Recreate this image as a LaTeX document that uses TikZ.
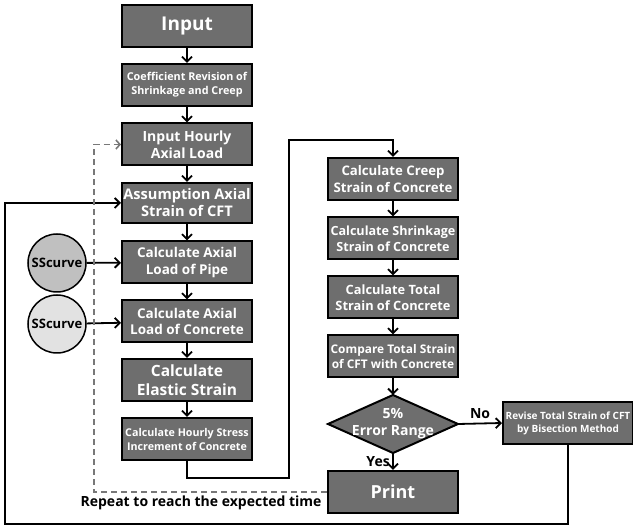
\documentclass[tikz,border=0pt]{standalone}
\usepackage{fontspec}
\setmainfont{Open Sans}
\usetikzlibrary{arrows.meta}
\definecolor{boxgray}{RGB}{110,110,110}
\definecolor{darkcircle}{RGB}{192,192,192}
\definecolor{lightcircle}{RGB}{226,226,226}
\definecolor{loopgray}{RGB}{120,120,120}

\tikzset{
    proc/.style={rectangle,draw,line width=2pt,fill=boxgray,text=white,inner sep=0pt,
        minimum width=130pt,minimum height=42pt,align=center},
    plain/.style={rectangle,inner sep=0pt,text=white,align=center},
    curve/.style={circle,draw,line width=1.5pt,minimum size=58pt,inner sep=0pt,
        font=\bfseries\fontsize{13}{15}\selectfont},
    flow/.style={line width=1.8pt,-{Straight Barb[length=5pt,width=10pt]}},
    repeat/.style={line width=1.6pt,dashed,dash pattern=on 6pt off 4pt,draw=loopgray,
        -{Straight Barb[length=4pt,width=9pt]}},
    note/.style={font=\bfseries\fontsize{14}{16}\selectfont}
    }

\begin{document}
\begin{tikzpicture}[x=1pt,y=-1pt]
                \useasboundingbox (0,0) rectangle (633,526);
                % The Left Column
                \node(in)[proc,font=\bfseries\fontsize{19}{22}\selectfont] at (187,26) {Input};
                \node(coef)[proc,font=\bfseries\fontsize{10.8}{14}\selectfont] at (187,85) {Coefficient Revision of\\Shrinkage and Creep};
                \node(hour)[proc,font=\bfseries\fontsize{14}{17}\selectfont] at (187,144.5) {Input Hourly\\Axial Load};
                \node(asm)[proc,font=\bfseries\fontsize{14.6}{17}\selectfont,minimum height=40pt] at (187,203) {Assumption Axial\\Strain of CFT};
                \node(pipe)[proc,font=\bfseries\fontsize{13.5}{16.5}\selectfont] at (187,262.5) {Calculate Axial\\Load of Pipe};
                \node(conc)[proc,font=\bfseries\fontsize{13.5}{16.5}\selectfont] at (187,321.5) {Calculate Axial\\Load of Concrete};
                \node(ela)[proc,font=\bfseries\fontsize{15.5}{19}\selectfont] at (187,380) {Calculate\\Elastic Strain};
                \node(stress)[proc,font=\bfseries\fontsize{10.7}{14}\selectfont] at (187,439) {Calculate Hourly Stress\\Increment of Concrete};
                % The Curves
                \node(sc1)[curve,fill=darkcircle] at (57,263) {SScurve};
                \node(sc2)[curve,fill=lightcircle] at (57,324) {SScurve};
                % The Right Column
                \node(creep)[proc,font=\bfseries\fontsize{13.2}{16.5}\selectfont] at (393,179) {Calculate Creep\\Strain of Concrete};
                \node(shr)[proc,font=\bfseries\fontsize{12.6}{16}\selectfont] at (393,238.5) {Calculate Shrinkage\\Strain of Concrete};
                \node(tot)[proc,font=\bfseries\fontsize{12.8}{16}\selectfont] at (393,297.5) {Calculate Total\\Strain of Concrete};
                \node(cmp)[proc,font=\bfseries\fontsize{11.9}{15}\selectfont] at (393,356.5) {Compare Total Strain\\of CFT with Concrete};
                \filldraw[line width=2pt,fill=boxgray] (393,395) -- (458,424) -- (393,453) -- (328,424) -- cycle;
                \node(err)[plain,minimum width=130pt,minimum height=58pt,font=\bfseries\fontsize{14}{17}\selectfont] at (393,424) {5\%\\Error Range};
                \node(prt)[proc,font=\bfseries\fontsize{18}{22}\selectfont] at (393,492) {Print};
                \node(rev)[proc,font=\bfseries\fontsize{10}{13}\selectfont] at (568,423) {Revise Total Strain of CFT\\by Bisection Method};
                \node(rep)[note,anchor=east] at (325,503) {Repeat to reach the expected time};
                \coordinate(tl) at (94,144.5);
                \coordinate(bl) at (94,492);
                % The Arrows
                \draw[flow] (in) -- (coef);
                \draw[flow] (coef) -- (hour);
                \draw[flow] (hour) -- (asm);
                \draw[flow] (asm) -- (pipe);
                \draw[flow] (pipe) -- (conc);
                \draw[flow] (conc) -- (ela);
                \draw[flow] (ela) -- (stress);
                \draw[flow] (sc1) -- (pipe);
                \draw[flow] (sc2) -- (conc);
                \draw[flow] (stress.south) |- (289,478) |- (393,140) -- (creep.north);
                \draw[flow] (creep) -- (shr);
                \draw[flow] (shr) -- (tot);
                \draw[flow] (tot) -- (cmp);
                \draw[flow] (cmp) -- (err.north);
                \draw[flow] (err.east) -- node[note,above=1pt,text=black]{No} (rev.west);
                \draw[flow] (err.south) -- node[note,left=-1pt,text=black]{Yes} (prt.north);
                \draw[flow] (rev.south) |- (5,524) |- (asm.west);
                \draw[repeat] (prt.west) -- (bl) -- (tl) -- (hour.west);
            \end{tikzpicture}
\end{document}
